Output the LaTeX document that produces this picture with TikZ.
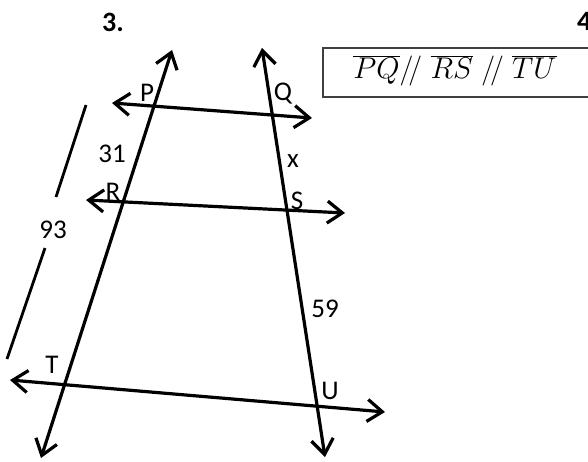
\RequirePackage{fix-cm}
\documentclass[tikz,border=0pt]{standalone}
\usepackage{fontspec}
\setmainfont{Carlito}
\usetikzlibrary{arrows.meta}
\begin{document}
\begin{tikzpicture}[x=1pt,y=-1pt,
  geoline/.style={line width=3.2pt,{Straight Barb[length=15pt,width=22pt]}-{Straight Barb[length=15pt,width=22pt]}},
  lbl/.style={inner sep=0pt,font=\fontsize{27}{32}\selectfont},
  hdr/.style={inner sep=0pt,font=\fontsize{28}{32}\selectfont\bfseries},
  segline/.style={line width=2.8pt},
  boxline/.style={draw=black!75,line width=1.3pt}]
\useasboundingbox (0,0) rectangle (588,461);
% transversals
\coordinate (La) at (172,50);
\coordinate (Lb) at (41,458);
\coordinate (Ra) at (262,48);
\coordinate (Rb) at (325,457);
% parallels
\coordinate (PQa) at (112,103);
\coordinate (PQb) at (312,118);
\coordinate (RSa) at (86,200);
\coordinate (RSb) at (345,213);
\coordinate (TUa) at (10,380);
\coordinate (TUb) at (385,412);
\draw[geoline] (Lb) -- (La);
\draw[geoline] (Rb) -- (Ra);
\draw[geoline] (PQa) -- (PQb);
\draw[geoline] (RSa) -- (RSb);
\draw[geoline] (TUa) -- (TUb);
% 93 measure
\coordinate (m1) at (86,105);
\coordinate (m2) at (56,197);
\coordinate (m3) at (45,248);
\coordinate (m4) at (7,359);
\draw[segline] (m1) -- (m2);
\draw[segline] (m3) -- (m4);
\node[lbl] (n93) at (53,230) {93};
% labels
\node[hdr] (h3) at (113,22) {3.};
\node[hdr,anchor=west] (h4) at (577,22) {4.};
\node[lbl] (lP) at (147,93) {P};
\node[lbl] (lQ) at (283,94) {Q};
\node[lbl] (l31) at (112,154) {31};
\node[lbl] (lx) at (293,161) {x};
\node[lbl] (lR) at (113,192) {R};
\node[lbl] (lS) at (297,201) {S};
\node[lbl] (l59) at (325,309) {59};
\node[lbl] (lT) at (52,365) {T};
\node[lbl] (lU) at (330,391) {U};
% box
\draw[boxline] (323,48) rectangle (620,97);
\node[inner sep=0pt,font=\fontsize{30}{34}\selectfont] (eq) at (455,71)
  {$\overline{PQ}/\!/\;\overline{RS}\;/\!/\;\overline{TU}$};
\end{tikzpicture}
\end{document}
